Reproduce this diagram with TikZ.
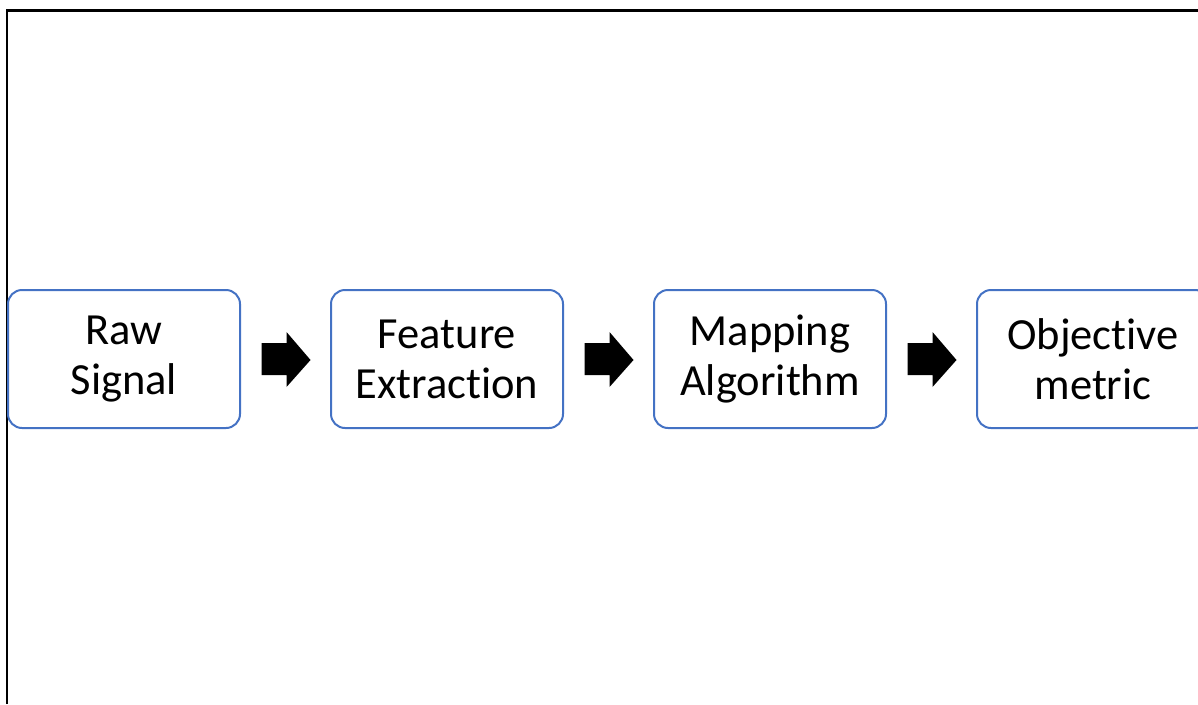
\documentclass[tikz,border=0pt]{standalone}
\usepackage{fontspec}
\setmainfont{Carlito}[Ligatures=NoCommon]
\usetikzlibrary{positioning,calc}

\definecolor{boxblue}{HTML}{4472C4}

\tikzset{
  stagebox/.style={draw=boxblue, line width=2pt, rounded corners=14pt,
    minimum width=232pt, minimum height=138pt, align=center,
    font=\fontsize{44.5}{50}\selectfont},
}

\begin{document}
\begin{tikzpicture}[x=1pt,y=-1pt]
          \useasboundingbox (0,0) rectangle (1198,704);
          \clip (0,0) rectangle (1198,704);
          \draw [line width=2.5pt] (7,704) -- (7,10.5) -- (1198,10.5);

          \node[stagebox] (raw) at (124,359) {Raw\\Signal};
          \node[stagebox, right=89pt of raw] (feat) {Feature\\Extraction};
          \node[stagebox, right=89pt of feat] (map) {Mapping\\Algorithm};
          \node[stagebox, right=89pt of map] (obj) {Objective\\metric};

          % block arrows between the stages
          \foreach \a/\b in {raw/feat, feat/map, map/obj} {
            \coordinate (mid) at ($(\a.east)!0.5!(\b.west)$);
            \fill [black, shift={(mid)}] (-24,-16) -- (1,-16) -- (1,-27) -- (25,1) -- (1,28) -- (1,16) -- (-24,16) -- cycle;
          }

        \end{tikzpicture}
\end{document}
